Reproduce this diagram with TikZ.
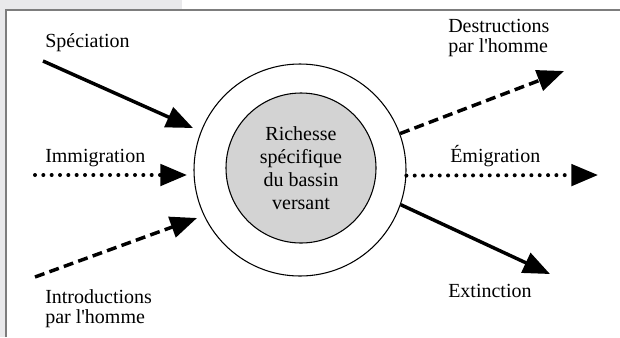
\documentclass[tikz,border=0pt]{standalone}
\usepackage{fontspec}
\setmainfont{Liberation Serif}
\usetikzlibrary{arrows.meta, positioning}

\definecolor{tabgray}{RGB}{233,233,235}
\definecolor{framegray}{RGB}{125,125,125}
\definecolor{coregray}{RGB}{211,211,211}

\begin{document}
\begin{tikzpicture}[
  x=0.75pt, y=-0.75pt,
  lbl/.style   = {inner sep=0pt, align=left, font=\fontsize{15}{15}\selectfont},
  outer/.style = {draw, circle, line width=0.8pt, minimum size=159pt, inner sep=0pt},
  core/.style  = {draw, circle, line width=0.8pt, fill=coregray, minimum size=112.5pt,
                  inner sep=0pt, align=center, font=\fontsize{15}{17.25}\selectfont},
  flux/.style  = {line width=2.6pt, -{Triangle[length=20pt, width=16pt]}},
  dotflux/.style  = {flux, line width=3pt, line cap=round, dash pattern=on 0pt off 6.25pt},
  dashflux/.style = {flux, dash pattern=on 7.5pt off 4pt}
]
  \useasboundingbox (0,0) rectangle (620,337);

  % page frame
  \fill[tabgray] (0,0) rectangle (182,10);
  \fill[tabgray] (0,0) rectangle (6,337);
  \draw[framegray, line width=1.1pt] (6,337) -- (6,10) -- (620,10);

  % basin
  \node[outer] (bassin) at (300,170) {};
  \node[core] (richesse) at (301,168) {Richesse\\spécifique\\du bassin\\versant};

  % inputs
  \node[lbl, anchor=base west] (speciation) at (45,47) {Spéciation};
  \node[lbl, anchor=base west] (immigration) at (45,162) {Immigration};
  \node[lbl, anchor=west] (introductions) at (45,309) {Introductions\\par l\textquotesingle homme};

  % outputs
  \node[lbl, anchor=west] (destructions) at (448,38) {Destructions\\par l\textquotesingle homme};
  \node[lbl, anchor=base west] (emigration) at (450,162) {Émigration};
  \node[lbl, anchor=base west] (extinction) at (448,297) {Extinction};

  % free ends of the arrows
  \coordinate (specin) at (43,61);
  \coordinate (spectip) at (193,128);
  \coordinate (immin) at (35,175);
  \coordinate (immtip) at (187,175);
  \coordinate (introin) at (35,277);
  \coordinate (introtip) at (197,218);
  \coordinate (destrtip) at (564,71);
  \coordinate (emigtip) at (598,175);
  \coordinate (extintip) at (550,274);

  \draw[flux] (specin) -- (spectip);
  \draw[dotflux] (immin) -- (immtip);
  \draw[dashflux] (introin) -- (introtip);

  \draw[dashflux] (bassin.20) -- (destrtip);
  \draw[dotflux] (bassin.-3) -- (emigtip);
  \draw[flux] (bassin.-19) -- (extintip);

\end{tikzpicture}
\end{document}
